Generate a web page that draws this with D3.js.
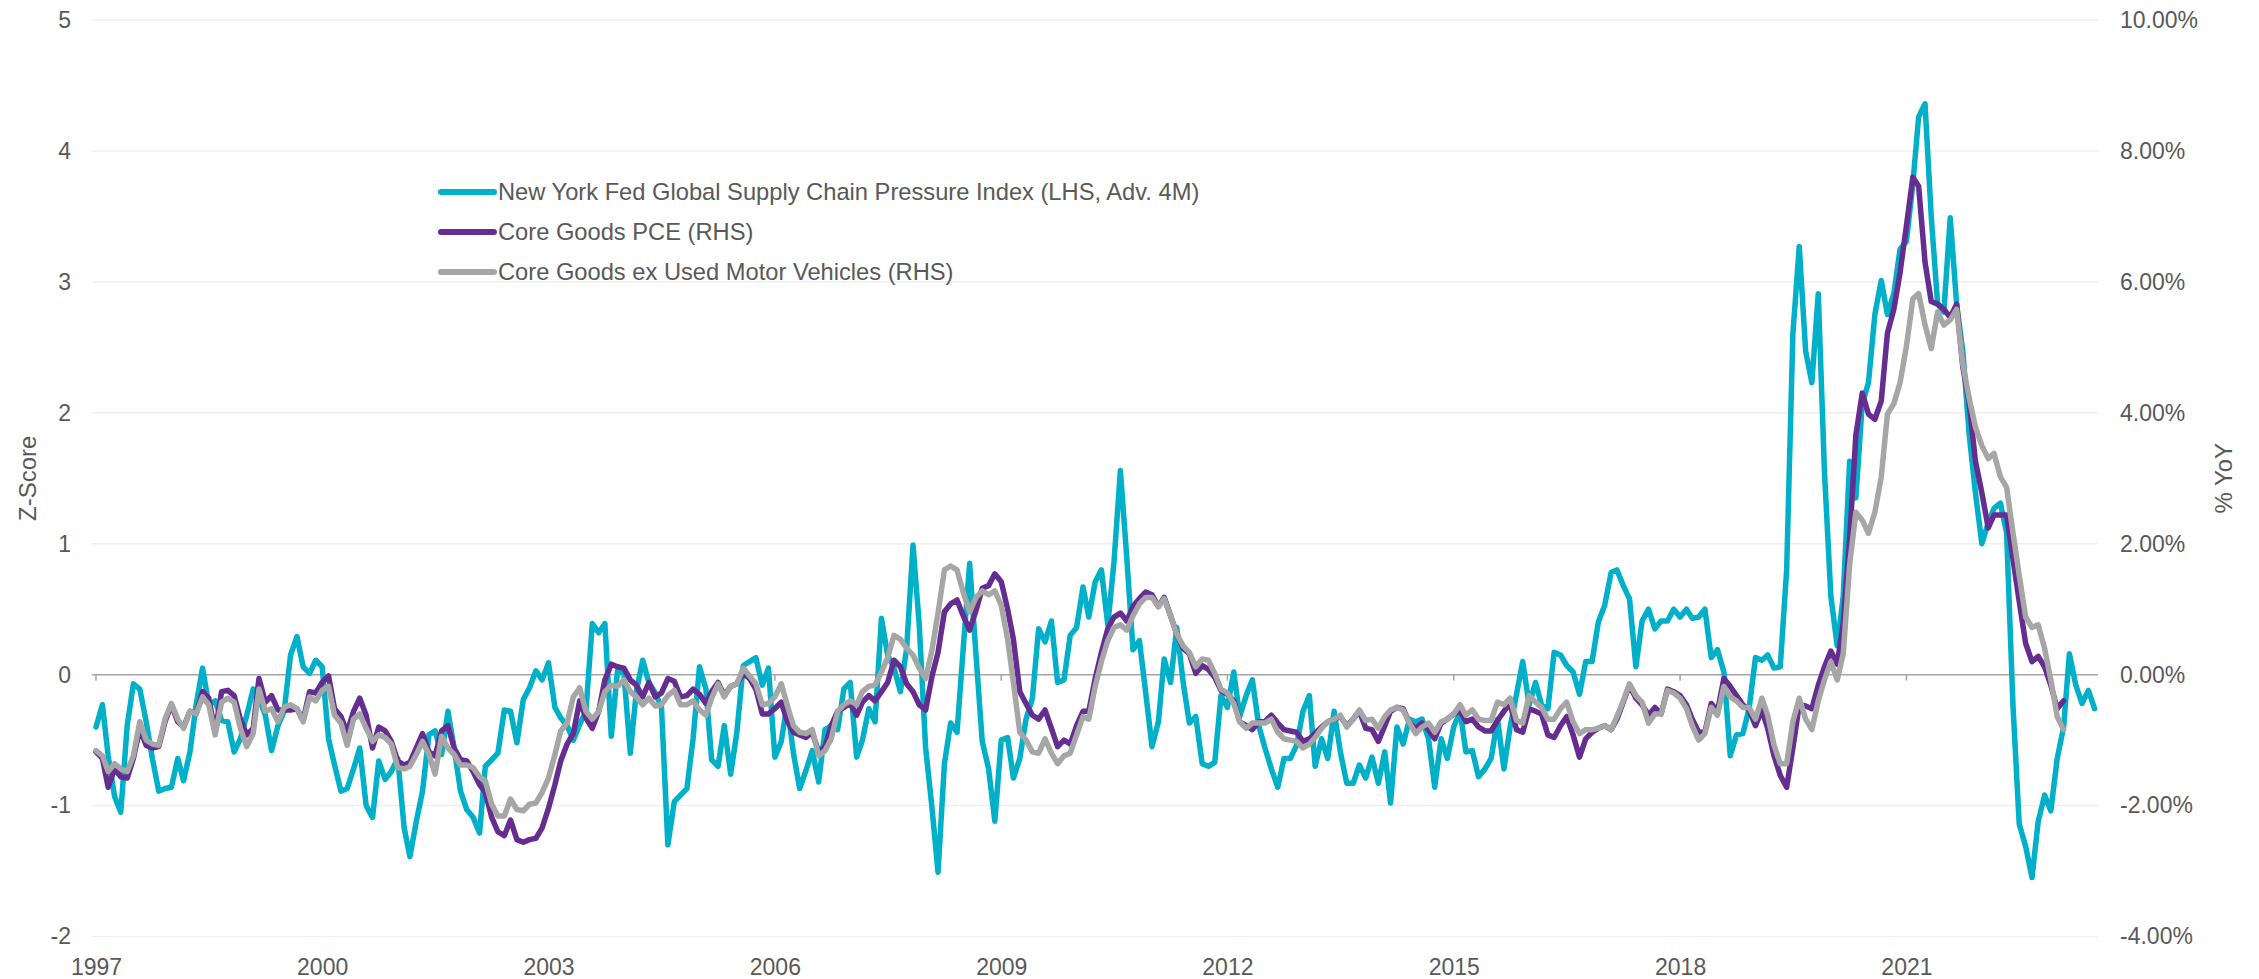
<!DOCTYPE html>
<html>
<head>
<meta charset="utf-8">
<script src="https://cdn.jsdelivr.net/npm/d3@7"></script>
<style>
  body { margin: 0; background: #fff; }
  #chart svg { display: block; font-family: Arial, 'Liberation Sans', sans-serif; }
</style>
</head>
<body>
<div id="chart"></div>
<script>
// monthly data, first point = Jan 1997
const startMonth = new Date(1997, 0, 1);

// NY Fed GSCPI, z-score, advanced 4 months (LHS)
const gscpi = [
  -0.40, -0.23, -0.62, -0.93, -1.05, -0.39, -0.07, -0.11, -0.36, -0.64,
  -0.89, -0.87, -0.86, -0.64, -0.81, -0.59, -0.23, 0.05, -0.23, -0.20,
  -0.35, -0.36, -0.59, -0.49, -0.31, -0.11, -0.18, -0.31, -0.58, -0.39,
  -0.28, 0.15, 0.29, 0.06, 0.01, 0.11, 0.06, -0.49, -0.69, -0.89,
  -0.87, -0.72, -0.56, -1.00, -1.09, -0.66, -0.80, -0.74, -0.64, -1.17,
  -1.39, -1.12, -0.89, -0.46, -0.43, -0.61, -0.28, -0.56, -0.89, -1.03,
  -1.09, -1.21, -0.70, -0.65, -0.60, -0.27, -0.28, -0.52, -0.19, -0.10,
  0.03, -0.04, 0.09, -0.25, -0.33, -0.39, -0.50, -0.38, -0.28, 0.39,
  0.32, 0.39, -0.47, 0.03, 0.01, -0.60, -0.13, 0.11, -0.06, -0.14,
  -0.25, -1.30, -0.97, -0.92, -0.87, -0.49, 0.06, -0.11, -0.65, -0.70,
  -0.39, -0.76, -0.44, 0.07, 0.10, 0.13, -0.08, 0.05, -0.63, -0.51,
  -0.23, -0.60, -0.87, -0.73, -0.58, -0.82, -0.42, -0.39, -0.42, -0.11,
  -0.06, -0.63, -0.50, -0.26, -0.36, 0.43, 0.15, 0.05, -0.13, 0.20,
  0.99, 0.38, -0.56, -1.02, -1.51, -0.68, -0.37, -0.44, 0.20, 0.85,
  0.15, -0.51, -0.72, -1.12, -0.50, -0.48, -0.79, -0.64, -0.34, -0.18,
  0.35, 0.25, 0.41, -0.06, -0.04, 0.30, 0.36, 0.67, 0.44, 0.71,
  0.80, 0.38, 0.86, 1.56, 0.89, 0.19, 0.26, -0.13, -0.55, -0.36,
  0.12, -0.06, 0.36, -0.06, -0.37, -0.32, -0.68, -0.70, -0.67, -0.16,
  -0.25, 0.02, -0.32, -0.16, -0.04, -0.39, -0.56, -0.72, -0.86, -0.64,
  -0.64, -0.54, -0.28, -0.16, -0.70, -0.49, -0.64, -0.28, -0.59, -0.83,
  -0.83, -0.69, -0.79, -0.63, -0.83, -0.59, -0.98, -0.40, -0.53, -0.34,
  -0.36, -0.34, -0.49, -0.86, -0.49, -0.64, -0.40, -0.28, -0.59, -0.58,
  -0.78, -0.72, -0.64, -0.34, -0.72, -0.40, -0.15, 0.10, -0.23, -0.06,
  -0.23, -0.26, 0.17, 0.15, 0.07, 0.02, -0.15, 0.10, 0.10, 0.40,
  0.53, 0.78, 0.80, 0.68, 0.58, 0.06, 0.41, 0.50, 0.35, 0.41,
  0.41, 0.50, 0.44, 0.50, 0.43, 0.44, 0.50, 0.13, 0.19, 0.02,
  -0.62, -0.46, -0.45, -0.26, 0.13, 0.11, 0.15, 0.05, 0.06, 0.80,
  2.60, 3.27, 2.47, 2.23, 2.91, 1.55, 0.60, 0.22, 0.60, 1.63,
  1.35, 2.07, 2.23, 2.75, 3.01, 2.75, 2.91, 3.25, 3.31, 3.75,
  4.26, 4.36, 3.50, 2.83, 2.77, 3.49, 2.83, 2.47, 1.83, 1.39,
  1.00, 1.16, 1.27, 1.31, 1.08, -0.24, -1.14, -1.31, -1.55, -1.12,
  -0.92, -1.04, -0.64, -0.40, 0.16, -0.08, -0.22, -0.12, -0.26
];

// Core Goods PCE, % YoY (RHS)
const coreGoods = [
  -1.18, -1.28, -1.72, -1.44, -1.56, -1.58, -1.28, -0.82, -1.08, -1.12,
  -1.10, -0.72, -0.46, -0.72, -0.80, -0.56, -0.60, -0.26, -0.36, -0.88,
  -0.26, -0.24, -0.32, -0.68, -0.92, -0.82, -0.06, -0.42, -0.32, -0.54,
  -0.54, -0.54, -0.52, -0.70, -0.26, -0.28, -0.12, -0.02, -0.52, -0.64,
  -0.88, -0.56, -0.36, -0.62, -1.12, -0.80, -0.86, -1.02, -1.32, -1.38,
  -1.34, -1.12, -0.90, -1.18, -1.24, -0.86, -0.78, -1.12, -1.30, -1.32,
  -1.48, -1.68, -1.80, -2.18, -2.40, -2.46, -2.22, -2.52, -2.56, -2.52,
  -2.50, -2.34, -2.04, -1.68, -1.32, -1.06, -0.90, -0.40, -0.66, -0.82,
  -0.56, -0.08, 0.16, 0.12, 0.10, -0.08, -0.16, -0.34, -0.12, -0.34,
  -0.28, -0.06, -0.10, -0.34, -0.32, -0.22, -0.30, -0.44, -0.26, -0.12,
  -0.32, -0.18, -0.14, 0.02, -0.06, -0.22, -0.60, -0.60, -0.52, -0.42,
  -0.70, -0.88, -0.92, -0.96, -0.88, -1.18, -1.10, -0.78, -0.56, -0.50,
  -0.44, -0.62, -0.42, -0.32, -0.40, -0.26, -0.12, 0.22, 0.12, -0.14,
  -0.26, -0.46, -0.54, -0.02, 0.34, 0.96, 1.08, 1.14, 0.90, 0.68,
  0.98, 1.32, 1.36, 1.54, 1.42, 1.00, 0.54, -0.26, -0.44, -0.62,
  -0.68, -0.54, -0.82, -1.10, -1.00, -1.06, -0.78, -0.56, -0.56, -0.06,
  0.34, 0.70, 0.88, 0.94, 0.82, 1.04, 1.16, 1.26, 1.22, 1.04,
  1.18, 0.90, 0.62, 0.40, 0.32, 0.02, 0.14, 0.08, -0.04, -0.24,
  -0.30, -0.40, -0.72, -0.78, -0.84, -0.72, -0.72, -0.62, -0.74, -0.84,
  -0.86, -0.88, -1.02, -0.98, -0.90, -0.80, -0.72, -0.68, -0.64, -0.78,
  -0.68, -0.56, -0.82, -0.84, -1.02, -0.78, -0.56, -0.50, -0.52, -0.74,
  -0.82, -0.74, -0.84, -0.98, -0.74, -0.68, -0.60, -0.56, -0.72, -0.68,
  -0.80, -0.86, -0.86, -0.70, -0.56, -0.44, -0.84, -0.88, -0.52, -0.56,
  -0.60, -0.92, -0.96, -0.78, -0.64, -0.92, -1.26, -0.98, -0.88, -0.82,
  -0.78, -0.84, -0.68, -0.42, -0.16, -0.36, -0.46, -0.62, -0.50, -0.60,
  -0.22, -0.26, -0.32, -0.46, -0.68, -0.88, -0.88, -0.44, -0.56, -0.06,
  -0.18, -0.32, -0.46, -0.54, -0.78, -0.54, -0.82, -1.24, -1.54, -1.72,
  -1.12, -0.46, -0.48, -0.52, -0.16, 0.12, 0.36, 0.16, 0.80, 2.08,
  3.66, 4.30, 3.98, 3.90, 4.18, 5.22, 5.58, 6.14, 6.86, 7.60,
  7.46, 6.30, 5.70, 5.66, 5.58, 5.46, 5.66, 4.70, 4.14, 3.26,
  2.78, 2.24, 2.44, 2.44, 2.44, 1.76, 1.12, 0.48, 0.20, 0.28,
  0.12, -0.16, -0.52, -0.40
];

// Core Goods ex Used Motor Vehicles, % YoY (RHS)
const coreGoodsExUsed = [
  -1.16, -1.24, -1.48, -1.36, -1.44, -1.48, -1.24, -0.72, -1.00, -1.06,
  -1.08, -0.68, -0.44, -0.68, -0.82, -0.56, -0.60, -0.34, -0.46, -0.92,
  -0.42, -0.36, -0.42, -0.82, -1.10, -0.90, -0.22, -0.56, -0.52, -0.72,
  -0.50, -0.46, -0.52, -0.72, -0.34, -0.40, -0.24, -0.18, -0.62, -0.74,
  -1.08, -0.68, -0.60, -0.82, -1.02, -0.92, -0.96, -1.06, -1.42, -1.44,
  -1.40, -1.22, -1.02, -1.22, -1.52, -0.94, -1.12, -1.22, -1.38, -1.38,
  -1.42, -1.56, -1.62, -1.98, -2.16, -2.16, -1.90, -2.06, -2.08, -1.98,
  -1.96, -1.80, -1.58, -1.22, -0.86, -0.74, -0.34, -0.20, -0.56, -0.68,
  -0.56, -0.26, -0.16, -0.18, -0.08, -0.26, -0.34, -0.46, -0.36, -0.48,
  -0.46, -0.32, -0.24, -0.46, -0.46, -0.40, -0.54, -0.62, -0.36, -0.14,
  -0.34, -0.18, -0.14, 0.10, -0.02, -0.14, -0.46, -0.44, -0.34, -0.14,
  -0.46, -0.78, -0.88, -0.90, -0.84, -1.24, -1.16, -0.98, -0.56, -0.46,
  -0.40, -0.46, -0.26, -0.18, -0.16, 0.04, 0.26, 0.60, 0.54, 0.40,
  0.30, 0.10, -0.06, 0.38, 0.94, 1.60, 1.66, 1.60, 1.26, 0.96,
  1.18, 1.28, 1.22, 1.28, 1.06, 0.54, -0.12, -0.88, -1.00, -1.18,
  -1.20, -0.98, -1.20, -1.36, -1.24, -1.20, -0.92, -0.64, -0.68, -0.18,
  0.20, 0.52, 0.72, 0.76, 0.68, 0.90, 1.08, 1.18, 1.18, 1.04,
  1.16, 0.90, 0.62, 0.44, 0.34, 0.12, 0.24, 0.22, 0.02, -0.22,
  -0.28, -0.44, -0.72, -0.82, -0.74, -0.74, -0.74, -0.68, -0.88, -0.98,
  -1.00, -1.02, -1.12, -1.06, -0.96, -0.82, -0.72, -0.68, -0.62, -0.80,
  -0.68, -0.54, -0.70, -0.68, -0.82, -0.64, -0.54, -0.50, -0.54, -0.74,
  -0.90, -0.80, -0.74, -0.88, -0.72, -0.68, -0.60, -0.46, -0.62, -0.54,
  -0.68, -0.70, -0.70, -0.42, -0.46, -0.36, -0.70, -0.74, -0.32, -0.42,
  -0.50, -0.68, -0.68, -0.52, -0.42, -0.72, -0.90, -0.84, -0.84, -0.82,
  -0.78, -0.84, -0.64, -0.40, -0.14, -0.32, -0.42, -0.74, -0.60, -0.60,
  -0.24, -0.28, -0.36, -0.52, -0.78, -1.00, -0.90, -0.50, -0.62, -0.18,
  -0.34, -0.40, -0.50, -0.50, -0.68, -0.36, -0.62, -1.08, -1.36, -1.36,
  -0.72, -0.36, -0.68, -0.84, -0.40, -0.08, 0.20, -0.08, 0.32, 1.68,
  2.48, 2.36, 2.16, 2.48, 3.02, 3.98, 4.14, 4.46, 5.02, 5.74,
  5.82, 5.34, 4.98, 5.54, 5.34, 5.42, 5.58, 4.74, 4.22, 3.78,
  3.50, 3.30, 3.38, 3.02, 2.86, 2.16, 1.52, 0.88, 0.72, 0.76,
  0.40, -0.08, -0.64, -0.84
];

const yearLabels = [1997, 2000, 2003, 2006, 2009, 2012, 2015, 2018, 2021];
const zTicks = [-2, -1, 0, 1, 2, 3, 4, 5];
const pctTicks = [-4, -2, 0, 2, 4, 6, 8, 10];
const seriesNames = [
  'New York Fed Global Supply Chain Pressure Index (LHS, Adv. 4M)',
  'Core Goods PCE (RHS)',
  'Core Goods ex Used Motor Vehicles (RHS)',
];
const leftTitle = 'Z-Score';
const rightTitle = '% YoY';

const width = 2259;
const height = 979;
const textColor = '#595959';
const colors = ['#00b0c8', '#662d91', '#a6a6a6'];

const usableArea = { left: 92, right: 2098, top: 20, bottom: 936.5 };

const svg = d3
  .select('#chart')
  .append('svg')
  .attr('width', width)
  .attr('height', height);

const monthOf = (i) => d3.timeMonth.offset(startMonth, i);

const xScale = d3
  .scaleTime()
  .domain([startMonth, monthOf(gscpi.length - 1)])
  .range([96, 2094.6]);

const yLeft = d3.scaleLinear().domain([-2, 5]).range([usableArea.bottom, usableArea.top]);
const yRight = d3.scaleLinear().domain([-4, 10]).range([usableArea.bottom, usableArea.top]);

// gridlines (not the zero one)
svg
  .append('g')
  .attr('class', 'gridlines')
  .selectAll('line')
  .data(zTicks.filter((d) => d !== 0))
  .join('line')
  .attr('x1', usableArea.left)
  .attr('x2', usableArea.right)
  .attr('y1', (d) => yLeft(d))
  .attr('y2', (d) => yLeft(d))
  .attr('stroke', '#efefef')
  .attr('stroke-width', 1.5);

// zero line with the year ticks on it
const yearDates = yearLabels.map((y) => new Date(y, 0, 1));
const zeroAxis = svg.append('g').attr('class', 'zero-axis');
zeroAxis
  .append('line')
  .attr('x1', usableArea.left)
  .attr('x2', usableArea.right)
  .attr('y1', yLeft(0))
  .attr('y2', yLeft(0))
  .attr('stroke', '#a6a6a6')
  .attr('stroke-width', 1.5);
zeroAxis
  .selectAll('.tick')
  .data(yearDates)
  .join('line')
  .attr('class', 'tick')
  .attr('x1', (d) => xScale(d))
  .attr('x2', (d) => xScale(d))
  .attr('y1', yLeft(0))
  .attr('y2', yLeft(0) + 6)
  .attr('stroke', '#a6a6a6')
  .attr('stroke-width', 1.5);

function styleAxis(g) {
  g.select('.domain').remove();
  g.attr('font-family', null).attr('font-size', null);
  g.selectAll('text').attr('fill', textColor).style('font-size', '23px');
}

// Add left axis
svg
  .append('g')
  .attr('transform', `translate(${usableArea.left}, 0)`)
  .call(
    d3.axisLeft(yLeft).tickValues(zTicks).tickSize(0).tickPadding(21)
      .tickFormat((d) => String(d))
  )
  .call(styleAxis);

// Add right axis
svg
  .append('g')
  .attr('transform', `translate(${usableArea.right}, 0)`)
  .call(
    d3.axisRight(yRight).tickValues(pctTicks).tickSize(0).tickPadding(22)
      .tickFormat((d) => d.toFixed(2) + '%')
  )
  .call(styleAxis);

// Add X axis labels at the bottom
svg
  .append('g')
  .attr('transform', `translate(0, ${usableArea.bottom})`)
  .call(
    d3.axisBottom(xScale).tickValues(yearDates).tickSize(0).tickPadding(22)
      .tickFormat(d3.timeFormat('%Y'))
  )
  .call(styleAxis);

// axis titles
const midY = (usableArea.top + usableArea.bottom) / 2;
svg
  .append('text')
  .attr('transform', `translate(28, ${midY}) rotate(-90)`)
  .attr('text-anchor', 'middle')
  .attr('dy', '0.35em')
  .attr('fill', textColor)
  .style('font-size', '24px')
  .text(leftTitle);
svg
  .append('text')
  .attr('transform', `translate(2224, ${midY}) rotate(-90)`)
  .attr('text-anchor', 'middle')
  .attr('dy', '0.35em')
  .attr('fill', textColor)
  .style('font-size', '24px')
  .text(rightTitle);

// lines
const lineLeft = d3.line().x((d, i) => xScale(monthOf(i))).y((d) => yLeft(d));
const lineRight = d3.line().x((d, i) => xScale(monthOf(i))).y((d) => yRight(d));

const series = [
  { values: gscpi, line: lineLeft },
  { values: coreGoods, line: lineRight },
  { values: coreGoodsExUsed, line: lineRight },
];

svg
  .append('g')
  .attr('class', 'lines')
  .selectAll('path')
  .data(series)
  .join('path')
  .attr('d', (d) => d.line(d.values))
  .attr('fill', 'none')
  .attr('stroke', (d, i) => colors[i])
  .attr('stroke-width', 5.5)
  .attr('stroke-linejoin', 'round')
  .attr('stroke-linecap', 'round');

// legend
const legend = svg
  .append('g')
  .attr('class', 'legend')
  .selectAll('g')
  .data(seriesNames)
  .join('g')
  .attr('transform', (d, i) => `translate(441, ${192 + i * 40})`);

legend
  .append('line')
  .attr('x1', 0)
  .attr('x2', 53)
  .attr('stroke', (d, i) => colors[i])
  .attr('stroke-width', 6)
  .attr('stroke-linecap', 'round');

legend
  .append('text')
  .attr('x', 57)
  .attr('dy', '0.35em')
  .attr('fill', textColor)
  .style('font-size', '23.7px')
  .text((d) => d);
</script>
</body>
</html>
